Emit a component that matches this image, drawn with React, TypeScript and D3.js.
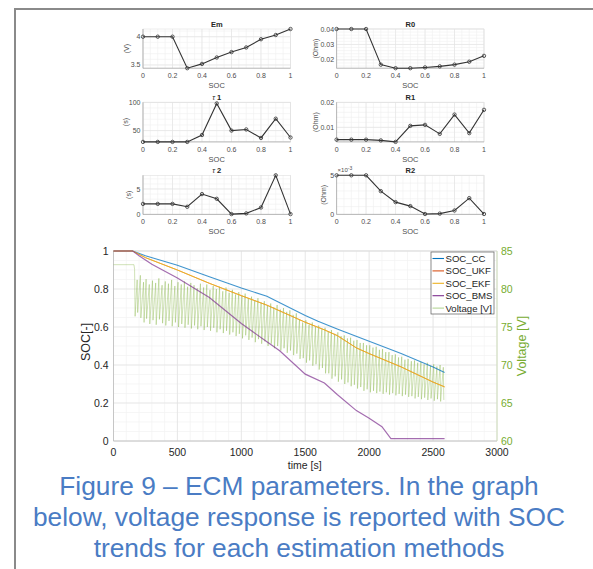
import React from "react";
import * as d3 from "d3";

// ---------- ECM parameter data (SOC grid) ----------
const socGrid = [0, 0.1, 0.2, 0.3, 0.4, 0.5, 0.6, 0.7, 0.8, 0.9, 1.0];
const emValues = [4.0, 4.0, 4.0, 3.443, 3.519, 3.632, 3.728, 3.81, 3.955, 4.03, 4.136];
const r0Values = [0.04, 0.04, 0.04, 0.0169, 0.0146, 0.0146, 0.0151, 0.0158, 0.0169, 0.0188, 0.0226];
const tau1Values = [30, 30, 30, 30, 42.2, 98, 50, 52, 37, 71, 37.8];
const r1Values = [0.0051, 0.0051, 0.0051, 0.0048, 0.0042, 0.0106, 0.011, 0.0074, 0.0151, 0.0077, 0.017];
const tau2Values = [2.07, 2.07, 2.07, 1.5, 4.0, 3.07, 0.06, 0.2, 1.36, 7.7, 0.06];
const r2Values = [0.005, 0.005, 0.005, 0.00297, 0.00157, 0.00106, 0.00005, 0.0001, 0.0005, 0.00208, 0.00005];

const socTicks = [0, 0.2, 0.4, 0.6, 0.8, 1];
const emTicks = [3.5, 4];
const r0Ticks = [0.02, 0.03, 0.04];
const tau1Ticks = [50, 100];
const r1Ticks = [0.01, 0.02];
const tau2Ticks = [0, 5];
const r2Ticks = [0, 0.005];

// ---------- SOC trends ----------
const ccTime = [0, 150, 250, 500, 750, 1000, 1200, 1250, 1500, 1600, 1750, 2000, 2250, 2500, 2590];
const ccSoc = [1, 1, 0.975, 0.925, 0.865, 0.805, 0.762, 0.745, 0.66, 0.63, 0.59, 0.525, 0.46, 0.39, 0.36];

const kfTime = [0, 150, 250, 500, 750, 1000, 1200, 1250, 1500, 1650, 1750, 1900, 2000, 2250, 2500, 2590];
const ukfSoc = [1, 1, 0.965, 0.9, 0.83, 0.765, 0.715, 0.7, 0.625, 0.585, 0.555, 0.49, 0.46, 0.39, 0.31, 0.285];
const ekfSoc = [1, 1, 0.965, 0.9, 0.83, 0.765, 0.715, 0.7, 0.625, 0.585, 0.555, 0.49, 0.46, 0.39, 0.31, 0.285];

const bmsTime = [0, 150, 200, 300, 500, 750, 1000, 1200, 1300, 1500, 1650, 1750, 1900, 2000, 2100, 2170, 2590];
const bmsSoc = [1, 1, 0.975, 0.93, 0.858, 0.755, 0.618, 0.522, 0.475, 0.352, 0.305, 0.245, 0.16, 0.12, 0.075, 0.012, 0.012];

// voltage: rest level, then [time, high, low] of each pulse
const voltRest: [number, number][] = [[0, 83.2], [160, 83.2]];
const voltPulses: [number, number, number][] = [
  [165, 82.6, 76.4], [185, 81.2, 76.9], [210, 81.8, 76.2], [235, 80.9, 75.6], [255, 81.3, 76.1],
  [280, 80.6, 75.4], [305, 81.1, 75.9], [330, 80.8, 75.3], [355, 81.4, 76.0], [380, 80.5, 75.5],
  [405, 81.0, 75.2], [430, 80.7, 75.8], [455, 81.2, 75.1], [480, 80.4, 75.6], [505, 80.9, 75.0],
  [530, 80.6, 75.4], [555, 81.0, 74.9], [580, 80.3, 75.3], [605, 80.8, 74.8], [630, 80.5, 75.2],
  [655, 80.1, 74.7], [680, 80.7, 75.1], [705, 80.2, 74.6], [730, 80.6, 75.0], [755, 79.9, 74.5],
  [780, 80.4, 74.9], [805, 80.0, 74.3], [830, 80.3, 74.7], [855, 79.7, 74.2], [880, 80.2, 74.5],
  [905, 79.5, 74.0], [930, 79.9, 74.3], [955, 79.3, 73.8], [980, 79.6, 74.1], [1005, 79.1, 73.5],
  [1030, 79.4, 73.9], [1055, 78.8, 73.3], [1080, 79.0, 73.6], [1105, 78.5, 73.0], [1130, 78.8, 73.4],
  [1155, 78.2, 72.8], [1180, 78.4, 73.1], [1205, 77.9, 72.5], [1230, 78.1, 72.8], [1255, 77.6, 72.2],
  [1280, 77.9, 72.5], [1305, 77.3, 71.9], [1330, 77.5, 72.2], [1355, 77.0, 71.6], [1380, 77.2, 71.9],
  [1405, 76.6, 71.3], [1430, 76.8, 71.5], [1455, 76.0, 70.8], [1480, 75.6, 70.9], [1505, 75.9, 70.3],
  [1530, 75.3, 70.6], [1555, 75.6, 69.9], [1580, 75.0, 70.1], [1605, 75.2, 69.4], [1630, 74.7, 69.6],
  [1655, 74.9, 68.9], [1680, 74.4, 68.9], [1705, 74.6, 68.2], [1730, 74.1, 68.5], [1755, 74.3, 67.8],
  [1780, 73.8, 68.1], [1805, 73.9, 67.5], [1830, 73.5, 67.7], [1855, 73.6, 67.2], [1880, 73.2, 67.4],
  [1905, 73.3, 66.9], [1930, 72.9, 67.1], [1955, 72.9, 66.6], [1980, 72.6, 66.8], [2005, 72.6, 66.4],
  [2030, 72.3, 66.6], [2055, 72.4, 66.3], [2080, 72.0, 66.5], [2105, 72.1, 66.2], [2130, 71.7, 66.4],
  [2155, 71.7, 66.1], [2180, 71.3, 66.3], [2205, 71.4, 66.0], [2230, 71.0, 66.2], [2255, 71.1, 65.9],
  [2280, 70.7, 66.1], [2305, 70.8, 65.8], [2330, 70.5, 65.9], [2355, 70.6, 65.6], [2380, 70.3, 65.8],
  [2405, 70.4, 65.5], [2430, 70.1, 65.7], [2455, 70.3, 65.4], [2480, 69.9, 65.6], [2505, 70.1, 65.3],
  [2530, 69.8, 65.5], [2555, 70.0, 65.2], [2580, 69.7, 65.4],
];

const timeTicks = [0, 500, 1000, 1500, 2000, 2500, 3000];
const socAxisTicks = [0, 0.2, 0.4, 0.6, 0.8, 1];
const voltTicks = [60, 65, 70, 75, 80, 85];
const legendNames = ["SOC_CC", "SOC_UKF", "SOC_EKF", "SOC_BMS", "Voltage [V]"];
const captionLines = [
  "Figure 9 \u2013 ECM parameters. In the graph",
  "below, voltage response is reported with SOC",
  "trends for each estimation methods",
];

const FONT = "'Liberation Sans', Arial, Helvetica, sans-serif";
const C_CC = "#0072BD";
const C_UKF = "#D95319";
const C_EKF = "#EDB120";
const C_BMS = "#7E2F8E";
const C_V = "#77AC30";

type Sub = {
  title: React.ReactNode;
  unit: string;
  values: number[];
  domain: [number, number];
  ticks: number[];
  fmt: (v: number) => string;
  minor: number;
  x0: number; x1: number; y0: number; y1: number;
  unitX: number;
  exp?: boolean;
};

function SubPlot({ s }: { s: Sub }) {
  const x = d3.scaleLinear().domain([0, 1]).range([s.x0, s.x1]);
  const y = d3.scaleLinear().domain(s.domain).range([s.y1, s.y0]);
  const line = d3.line<number>().x((_, i) => x(socGrid[i])).y((d) => y(d));
  const minorX = d3.range(0, 1.0001, 0.05);
  const minorY: number[] = [];
  const start = Math.ceil(s.domain[0] / s.minor - 1e-6) * s.minor;
  for (let v = start; v <= s.domain[1] + 1e-9; v += s.minor) minorY.push(v);
  const tc = "#4d4d4d";
  return (
    <g>
      {minorX.map((v, i) => (
        <line key={"mx" + i} x1={x(v)} x2={x(v)} y1={s.y0} y2={s.y1} stroke="#f0f0f0" strokeWidth={0.6} />
      ))}
      {minorY.map((v, i) => (
        <line key={"my" + i} x1={s.x0} x2={s.x1} y1={y(v)} y2={y(v)} stroke="#f0f0f0" strokeWidth={0.6} />
      ))}
      {socTicks.map((v, i) => (
        <line key={"gx" + i} x1={x(v)} x2={x(v)} y1={s.y0} y2={s.y1} stroke="#e3e3e3" strokeWidth={0.6} />
      ))}
      {s.ticks.map((v, i) => (
        <line key={"gy" + i} x1={s.x0} x2={s.x1} y1={y(v)} y2={y(v)} stroke="#e3e3e3" strokeWidth={0.6} />
      ))}
      <rect x={s.x0} y={s.y0} width={s.x1 - s.x0} height={s.y1 - s.y0} fill="none" stroke="#e0e0e0" strokeWidth={0.6} />
      <line x1={s.x0} x2={s.x1} y1={s.y1} y2={s.y1} stroke="#999" strokeWidth={0.6} />
      <line x1={s.x0} x2={s.x0} y1={s.y0} y2={s.y1} stroke="#999" strokeWidth={0.6} />
      <path d={line(s.values) || ""} fill="none" stroke="#333" strokeWidth={1.1} />
      {s.values.map((v, i) => (
        <circle key={"p" + i} cx={x(socGrid[i])} cy={y(v)} r={1.7} fill="none" stroke="#333" strokeWidth={0.8} />
      ))}
      {socTicks.map((v, i) => (
        <text key={"tx" + i} x={x(v)} y={s.y1 + 10} fontSize={7} fill={tc} textAnchor="middle" fontFamily={FONT}>
          {d3.format("~g")(v)}
        </text>
      ))}
      {s.ticks.map((v, i) => (
        <text key={"ty" + i} x={s.x0 - 2.5} y={y(v) + 2.5} fontSize={7} fill={tc} textAnchor="end" fontFamily={FONT}>
          {s.fmt(v)}
        </text>
      ))}
      <text x={(s.x0 + s.x1) / 2} y={s.y1 + 20} fontSize={7.5} fill={tc} textAnchor="middle" fontFamily={FONT}>SOC</text>
      <text x={(s.x0 + s.x1) / 2} y={s.y0 - 2.5} fontSize={7.5} fill="#262626" fontWeight="bold" textAnchor="middle" fontFamily={FONT}>{s.title}</text>
      <text transform={`translate(${s.unitX},${(s.y0 + s.y1) / 2}) rotate(-90)`} fontSize={7} fill={tc} textAnchor="middle" fontFamily={FONT}>
        {s.unit}
      </text>
      {s.exp && (
        <text x={s.x0 + 1} y={s.y0 - 3} fontSize={6} fill={tc} fontFamily={FONT}>
          {"\u00d710"}<tspan dy={-2.5} fontSize={5}>-3</tspan>
        </text>
      )}
    </g>
  );
}

export default function App() {
  const L = { x0: 143, x1: 290.5 };
  const R = { x0: 336.6, x1: 484 };
  const rows = [
    { y0: 29, y1: 68.2 },
    { y0: 102.3, y1: 141.9 },
    { y0: 175.3, y1: 214.4 },
  ];
  const subs: Sub[] = [
    { title: "Em", unit: "(V)", values: emValues, domain: [3.443, 4.136], ticks: emTicks, fmt: (v) => d3.format("~g")(v), minor: 0.1, ...L, ...rows[0], unitX: 129 },
    { title: "R0", unit: "(Ohm)", values: r0Values, domain: [0.0146, 0.04], ticks: r0Ticks, fmt: (v) => d3.format(".2f")(v), minor: 0.002, ...R, ...rows[0], unitX: 318 },
    { title: <tspan><tspan fontStyle="italic" fontWeight="normal">{"\u03c4"}</tspan>{" 1"}</tspan>, unit: "(s)", values: tau1Values, domain: [30, 100], ticks: tau1Ticks, fmt: (v) => String(v), minor: 10, ...L, ...rows[1], unitX: 128 },
    { title: "R1", unit: "(Ohm)", values: r1Values, domain: [0.0042, 0.02], ticks: r1Ticks, fmt: (v) => d3.format(".2f")(v), minor: 0.002, ...R, ...rows[1], unitX: 318 },
    { title: <tspan><tspan fontStyle="italic" fontWeight="normal">{"\u03c4"}</tspan>{" 2"}</tspan>, unit: "(s)", values: tau2Values, domain: [0, 7.7], ticks: tau2Ticks, fmt: (v) => String(v), minor: 1, ...L, ...rows[2], unitX: 131 },
    { title: "R2", unit: "(Ohm)", values: r2Values, domain: [0, 0.005], ticks: r2Ticks, fmt: (v) => String(Math.round(v * 1000)), minor: 0.001, ...R, ...rows[2], unitX: 326, exp: true },
  ];

  // main chart
  const px0 = 113.5, px1 = 497, py0 = 251, py1 = 441;
  const x = d3.scaleLinear().domain([0, 3000]).range([px0, px1]);
  const y = d3.scaleLinear().domain([0, 1]).range([py1, py0]);
  const yv = d3.scaleLinear().domain([60, 85]).range([py1, py0]);
  const socLine = (t: number[], v: number[]) =>
    d3.line<number>().x((_, i) => x(t[i])).y((d) => y(d))(v) || "";
  const voltPts: [number, number][] = [...voltRest];
  voltPulses.forEach(([t, hi, lo]) => {
    voltPts.push([t, hi]);
    voltPts.push([t + 4, lo]);
  });
  const vLine = d3.line<[number, number]>().x((d) => x(d[0])).y((d) => yv(d[1]))(voltPts) || "";
  const minorT = d3.range(0, 3001, 100);
  const minorS = d3.range(0, 1.0001, 0.05);
  const legendColors = [C_CC, C_UKF, C_EKF, C_BMS, "#b5d697"];
  const tick = "#262626";

  return (
    <svg width={593} height={569} style={{ position: "absolute", left: 0, top: 0, background: "#fff" }}>
      <rect x={0} y={0} width={593} height={569} fill="#fff" />
      <rect x={15} y={9} width={600} height={600} fill="none" stroke="#8a8a8a" strokeWidth={2} />
      {subs.map((s, i) => <SubPlot key={i} s={s} />)}

      {/* main grid */}
      {minorT.map((v, i) => (
        <line key={"mt" + i} x1={x(v)} x2={x(v)} y1={py0} y2={py1} stroke="#f2f2f2" strokeWidth={0.7} />
      ))}
      {minorS.map((v, i) => (
        <line key={"ms" + i} x1={px0} x2={px1} y1={y(v)} y2={y(v)} stroke="#f2f2f2" strokeWidth={0.7} />
      ))}
      {timeTicks.map((v, i) => (
        <line key={"gt" + i} x1={x(v)} x2={x(v)} y1={py0} y2={py1} stroke="#e2e2e2" strokeWidth={0.7} />
      ))}
      {socAxisTicks.map((v, i) => (
        <line key={"gs" + i} x1={px0} x2={px1} y1={y(v)} y2={y(v)} stroke="#e2e2e2" strokeWidth={0.7} />
      ))}
      <line x1={px0} x2={px1} y1={py0} y2={py0} stroke="#d8d8d8" strokeWidth={0.7} />
      <line x1={px0} x2={px1} y1={py1} y2={py1} stroke="#bdbdbd" strokeWidth={0.8} />
      <line x1={px0} x2={px0} y1={py0} y2={py1} stroke="#bdbdbd" strokeWidth={0.8} />
      <line x1={px1} x2={px1} y1={py0} y2={py1} stroke="#c9dcb0" strokeWidth={0.8} />

      {/* series */}
      <path d={vLine} fill="none" stroke={C_V} strokeOpacity={0.5} strokeWidth={0.7} />
      <path d={socLine(ccTime, ccSoc)} fill="none" stroke={C_CC} strokeOpacity={0.75} strokeWidth={1.1} />
      <path d={socLine(kfTime, ukfSoc)} fill="none" stroke={C_UKF} strokeOpacity={0.5} strokeWidth={1.0} />
      <path d={socLine(kfTime, ekfSoc)} fill="none" stroke={C_EKF} strokeWidth={1.0} />
      <path d={socLine(bmsTime, bmsSoc)} fill="none" stroke={C_BMS} strokeOpacity={0.7} strokeWidth={1.2} />

      {/* axes labels */}
      {timeTicks.map((v, i) => (
        <text key={"xt" + i} x={x(v)} y={py1 + 14.5} fontSize={10.5} fill={tick} textAnchor="middle" fontFamily={FONT}>{v}</text>
      ))}
      {socAxisTicks.map((v, i) => (
        <text key={"yt" + i} x={px0 - 5} y={y(v) + 4} fontSize={10.5} fill={tick} textAnchor="end" fontFamily={FONT}>{d3.format("~g")(v)}</text>
      ))}
      {voltTicks.map((v, i) => (
        <text key={"vt" + i} x={px1 + 4} y={yv(v) + 4} fontSize={10.5} fill={C_V} textAnchor="start" fontFamily={FONT}>{v}</text>
      ))}
      <text x={(px0 + px1) / 2 - 0.5} y={py1 + 27.5} fontSize={10.5} fill={tick} textAnchor="middle" fontFamily={FONT}>time [s]</text>
      <text transform={`translate(${89.5},${342}) rotate(-90)`} fontSize={12.5} fill={tick} textAnchor="middle" fontFamily={FONT}>SOC[-]</text>
      <text transform={`translate(${526},${346}) rotate(-90)`} fontSize={12.5} fill={C_V} textAnchor="middle" fontFamily={FONT}>Voltage [V]</text>

      {/* legend */}
      <rect x={431} y={252} width={63} height={62} fill="#fff" stroke="#5a5a5a" strokeWidth={0.7} />
      {legendNames.map((n, i) => (
        <g key={"lg" + i}>
          <line x1={432.5} x2={444} y1={258.5 + i * 12.4} y2={258.5 + i * 12.4} stroke={legendColors[i]} strokeWidth={1.1} />
          <text x={445.5} y={262 + i * 12.4} fontSize={9.6} fill={tick} fontFamily={FONT}>{n}</text>
        </g>
      ))}

      {/* caption */}
      {captionLines.map((c, i) => (
        <text key={"cap" + i} x={299} y={495 + i * 31} fontSize={26.3} fill="#4a7cc4" textAnchor="middle" fontFamily={FONT}>{c}</text>
      ))}
    </svg>
  );
}
